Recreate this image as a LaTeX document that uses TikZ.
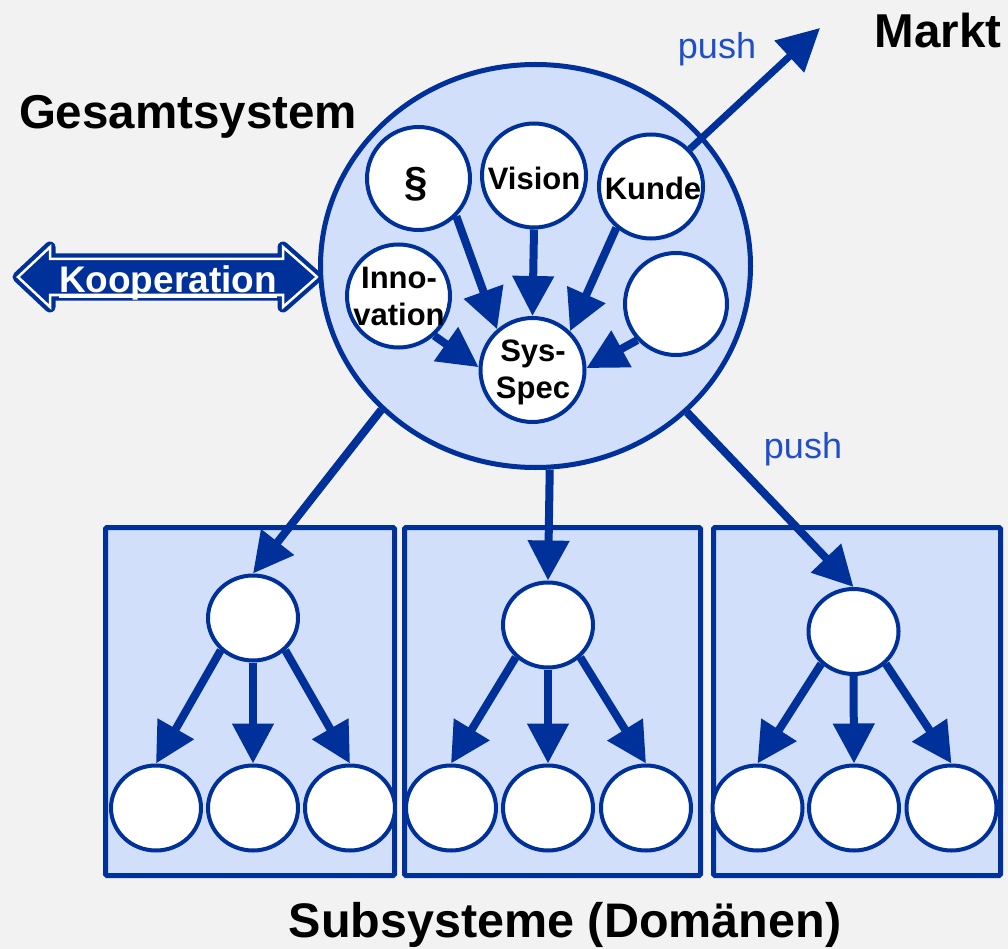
\documentclass[tikz,border=0pt]{standalone}
\usepackage{fontspec}
\setmainfont{Liberation Sans}
\usetikzlibrary{arrows.meta,shapes.geometric}
\definecolor{dkblue}{RGB}{0,48,153}
\definecolor{lfill}{RGB}{209,223,250}
\definecolor{bgc}{RGB}{242,242,242}
\definecolor{pushc}{RGB}{31,79,200}
\begin{document}
\begin{tikzpicture}[x=1pt,y=-1pt,
 big/.style={ellipse, draw=dkblue, line width=5pt, fill=lfill, minimum width=430pt, minimum height=403pt, inner sep=0pt},
 inner/.style={circle, draw=dkblue, line width=4pt, fill=white, inner sep=0pt, minimum size=104pt},
 sub/.style={ellipse, draw=dkblue, line width=4pt, fill=white, minimum width=90pt, minimum height=85pt, inner sep=0pt},
 box/.style={rectangle, draw=dkblue, line width=5pt, fill=lfill, rounded corners=1.5pt, minimum height=348pt, inner sep=0pt},
 arr/.style={dkblue, line width=8pt, -{Triangle[length=40pt,width=40pt]}},
 lbl/.style={font=\fontsize{31}{37}\selectfont\bfseries, align=center, inner sep=0pt},
 title/.style={font=\fontsize{47.5}{56}\selectfont\bfseries, inner sep=0pt, anchor=base},
 pushlbl/.style={font=\fontsize{36}{43}\selectfont, text=pushc, inner sep=0pt, anchor=base},
]
\useasboundingbox (0,0) rectangle (1008,949);
\fill[bgc] (0,0) rectangle (1008,949);

% subsystem boxes
\node[box, minimum width=289pt] (b1) at (250,701.5) {};
\node[box, minimum width=296pt] (b2) at (552.5,701.5) {};
\node[box, minimum width=287pt] (b3) at (857,701.5) {};

% subsystem circles
\node[sub] (t1) at (253,618) {};
\node[sub] (l1) at (156,808) {};
\node[sub] (m1) at (253,808) {};
\node[sub] (r1) at (350,808) {};
\node[sub] (t2) at (548,625) {};
\node[sub] (l2) at (451,808) {};
\node[sub] (m2) at (548,808) {};
\node[sub] (r2) at (646,808) {};
\node[sub] (t3) at (853.5,631.5) {};
\node[sub] (l3) at (757.5,808) {};
\node[sub] (m3) at (854,808) {};
\node[sub] (r3) at (951.5,808) {};
\foreach \i in {1,2,3}{
  \draw[arr] (t\i.225) -- (l\i.north);
  \draw[arr] (t\i.south) -- (m\i.north);
  \draw[arr] (t\i.-45) -- (r\i.north);
}

% Kooperation double arrow
\def\koopath{(18,277) -- (50,247) -- (50,259) -- (283,259) -- (283,247) -- (317,277) -- (283,307) -- (283,295) -- (50,295) -- (50,307) -- cycle}
\path[fill=dkblue, draw=dkblue, line width=11pt, line join=round] \koopath;
\draw[white, line width=2.5pt] \koopath;
\node[font=\fontsize{37}{44}\selectfont\bfseries, text=white, inner sep=0pt, anchor=base] (koop) at (168,293) {Kooperation};
\draw[white, line width=2.2pt] ([yshift=-4pt]koop.base west) -- ([yshift=-4pt]koop.base east);

% big circle
\node[big] (gs) at (535.5,266) {};

% inner circles
\node[inner, minimum size=103pt] (para) at (418.5,178.5) {};
\node[inner] (vision) at (534,175.5) {};
\node[inner] (kunde) at (651,186.5) {};
\node[inner, minimum size=103pt] (inno) at (398.5,296) {};
\node[inner, minimum size=102pt] (empty) at (676,304) {};
\node[inner] (sys) at (532.5,370) {};

\node[lbl, font=\fontsize{42}{50}\selectfont\bfseries] (paralbl) at (416,184) {\S};
\node[lbl, anchor=base] (visionlbl) at (534,190) {Vision};
\node[lbl, anchor=base] (kundelbl) at (653,200) {Kunde};
\node[lbl] (innolbl) at (399,296) {Inno-\\vation};
\node[lbl] (syslbl) at (533,372) {Sys-\\Spec};

\draw[arr] (para.-45) -- (sys.131);
\draw[arr] (vision.south) -- (sys.north);
\draw[arr] (kunde.230) -- (sys.46);
\draw[arr] (inno.-48) -- (sys.177);
\draw[arr] (empty.223) -- (sys.2);

% Markt arrow
\coordinate (marktend) at (820,28);
\draw[dkblue, line width=7pt, -{Triangle[length=42pt,width=42pt]}] (kunde.44) -- (marktend);

% arrows to subsystems
\draw[arr] (gs.223) -- (t1.north);
\draw[arr] (gs.-86.5) -- (t2.north);
\draw[arr] (gs.-44) -- (t3.north);

% texts
\node[title] (gesamt) at (188,129) {Gesamtsystem};
\node[title] (markt) at (938,48) {Markt};
\node[title, font=\fontsize{48.5}{58}\selectfont\bfseries] (subsys) at (565,937) {Subsysteme (Domänen)};
\node[pushlbl] (push1) at (717,59) {push};
\node[pushlbl] (push2) at (803,458) {push};
\end{tikzpicture}
\end{document}
